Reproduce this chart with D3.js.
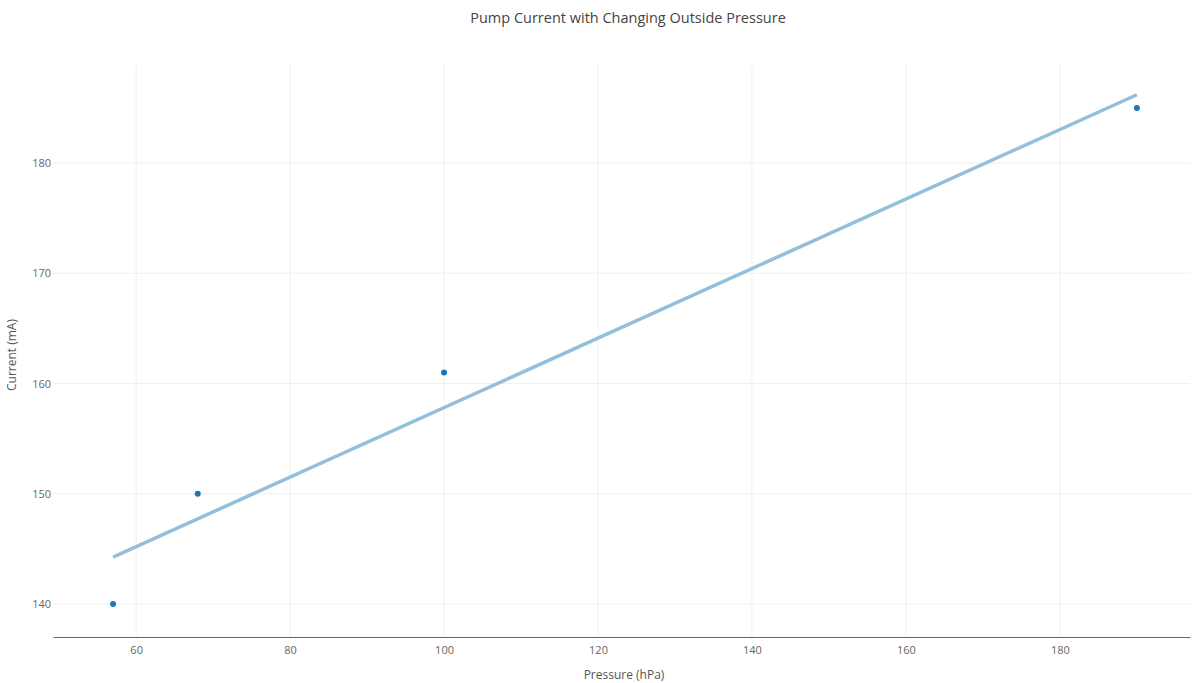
<!DOCTYPE html>
<html>
<head>
<meta charset="utf-8">
<script src="https://cdn.jsdelivr.net/npm/d3@7"></script>
<style>
  html, body { margin: 0; padding: 0; background: #fff; }
  svg { display: block; font-family: "Open Sans", sans-serif; }
</style>
</head>
<body>
<svg id="chart" width="1192" height="683"></svg>
<script>
// Data
const pressure = [57, 68, 100, 190];
const current = [140, 150, 161, 185];
const fitPressure = [57, 190];
const fitCurrent = [144.25, 186.2];
const xTicks = [60, 80, 100, 120, 140, 160, 180];
const yTicks = [140, 150, 160, 170, 180];
const title = "Pump Current with Changing Outside Pressure";
const xTitle = "Pressure (hPa)";
const yTitle = "Current (mA)";

const W = 1192, H = 683;
const m = { left: 53, right: 2, top: 65, bottom: 46 };
const svg = d3.select("#chart");

const x = d3.scaleLinear().domain([49.2, 196.9]).range([m.left, W - m.right]);
const y = d3.scaleLinear().domain([137.0, 188.9]).range([H - m.bottom, m.top]);

// gridlines
svg.append("g").selectAll("line").data(xTicks).join("line")
  .attr("x1", d => x(d)).attr("x2", d => x(d))
  .attr("y1", m.top).attr("y2", H - m.bottom)
  .attr("stroke", "#f0f0f0").attr("stroke-width", 1);
svg.append("g").selectAll("line").data(yTicks).join("line")
  .attr("x1", m.left).attr("x2", W - m.right)
  .attr("y1", d => y(d)).attr("y2", d => y(d))
  .attr("stroke", "#f0f0f0").attr("stroke-width", 1);

// x axis
const xAxis = svg.append("g")
  .attr("transform", `translate(0,${H - m.bottom})`)
  .call(d3.axisBottom(x).tickValues(xTicks).tickSize(0).tickPadding(9));
xAxis.select(".domain").attr("stroke", "#666").attr("stroke-width", 1);
xAxis.selectAll("text").attr("fill", "#666").style("font-size", "11px").style("font-family", "'Open Sans', sans-serif");

// y axis
const yAxis = svg.append("g")
  .attr("transform", `translate(${m.left},0)`)
  .call(d3.axisLeft(y).tickValues(yTicks).tickSize(0).tickPadding(2));
yAxis.select(".domain").remove();
yAxis.selectAll("text").attr("fill", "#666").style("font-size", "11px").style("font-family", "'Open Sans', sans-serif");

// fit line
const line = d3.line().x((d, i) => x(fitPressure[i])).y((d, i) => y(fitCurrent[i]));
svg.append("path").datum(fitPressure)
  .attr("d", line)
  .attr("fill", "none")
  .attr("stroke", "#94bfdc")
  .attr("stroke-width", 3.5);

// points
svg.append("g").selectAll("circle").data(pressure).join("circle")
  .attr("cx", d => x(d))
  .attr("cy", (d, i) => y(current[i]))
  .attr("r", 3)
  .attr("fill", "#1f77b4");

// titles
svg.append("text").attr("x", 628).attr("y", 23).attr("text-anchor", "middle")
  .attr("fill", "#444").style("font-size", "14.5px").text(title);
svg.append("text").attr("x", 624).attr("y", 679).attr("text-anchor", "middle")
  .attr("fill", "#555").style("font-size", "12px").text(xTitle);
svg.append("text").attr("transform", "translate(16,355) rotate(-90)").attr("text-anchor", "middle")
  .attr("fill", "#555").style("font-size", "12px").text(yTitle);
</script>
</body>
</html>
